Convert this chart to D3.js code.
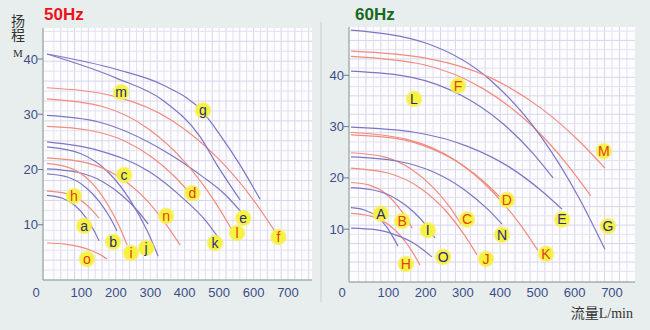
<!DOCTYPE html>
<html><head><meta charset="utf-8">
<script src="https://cdn.jsdelivr.net/npm/d3@7"></script>
<style>
html,body{margin:0;padding:0;background:#e8eeee;}
svg{display:block;}
</style></head><body>
<svg id="chart" width="650" height="330"></svg>
<script>
// ---- 50 Hz performance curves: [flow L/min, head m] ----
const a50 = [[0,15.3],[45,14.8],[83,13.4],[113,11.3],[136,9.0],[151,7.1]];
const b50 = [[0,19.2],[61,18.6],[112,16.8],[152,14.2],[183,11.3],[203,8.9]];
const c50 = [[0,20.1],[88,19.5],[162,17.8],[220,15.2],[265,12.4],[294,10.1]];
const d50 = [[0,27.8],[122,27.1],[224,25.2],[305,22.2],[366,19.0],[407,16.3]];
const e50 = [[0,29.8],[150,28.6],[337,23.5],[450,18.8],[520,15.3],[567,12.1]];
const f50 = [[0,34.8],[199,33.2],[365,28.8],[497,22.0],[597,14.7],[663,8.7]];
const g50 = [[0,40.9],[203,38.1],[337,35.3],[453,30.4],[500,26.5],[561,20.8],[619,14.6]];
const h50 = [[0,16.1],[45,15.8],[83,15.0],[113,13.7],[136,12.3],[151,11.2]];
const i50 = [[0,21.1],[70,20.2],[128,17.7],[175,13.8],[210,9.7],[233,6.3]];
const j50 = [[0,24.1],[97,22.9],[178,19.5],[242,14.4],[291,8.9],[323,4.3]];
const k50 = [[0,25.0],[146,23.5],[300,19.5],[400,14.5],[460,10.8],[503,7.2]];
const l50 = [[0,32.8],[161,31.4],[296,27.3],[404,21.1],[484,14.5],[538,9.0]];
const m50 = [[0,40.9],[203,36.5],[337,32.5],[445,25.9],[494,20.8],[561,14.5]];
const n50 = [[0,22.1],[116,21.2],[213,18.5],[290,14.4],[348,9.9],[387,6.3]];
const o50 = [[0,6.7],[52,6.5],[96,6.0],[130,5.3],[157,4.5],[174,3.8]];

const names50  = ["a","b","c","d","e","f","g","h","i","j","k","l","m","n","o"];
const series50 = [a50,b50,c50,d50,e50,f50,g50,h50,i50,j50,k50,l50,m50,n50,o50];
const kind50   = ["B","B","B","R","B","R","B","R","R","B","B","R","B","R","R"];
const tags50   = [[108,9.8],[192,6.9],[224,19.0],[422,15.7],[570,11.2],[672,7.8],[453,30.7],
                  [78,15.2],[244,4.9],[288,5.8],[488,6.7],[552,8.5],[215,34.0],[346,11.6],[116,3.8]];

// ---- 60 Hz performance curves ----
const A60 = [[0,14.2],[38,13.7],[69,12.5],[95,10.5],[113,8.4],[126,6.7]];
const B60 = [[0,19.1],[49,18.6],[90,17.1],[123,14.7],[148,12.2],[164,10.2]];
const C60 = [[0,24.9],[89,24.1],[162,21.7],[221,18.1],[266,14.2],[295,11.0]];
const D60 = [[0,28.4],[120,27.7],[219,25.6],[299,22.5],[359,19.1],[399,16.3]];
const E60 = [[0,29.9],[170,28.9],[311,26.2],[425,22.1],[509,17.6],[566,13.9]];
const F60 = [[0,43.7],[193,42.1],[354,37.4],[482,30.4],[579,22.7],[643,16.5]];
const G60 = [[0,48.8],[204,46.2],[375,39.0],[511,27.9],[613,15.9],[681,6.1]];
const H60 = [[0,13.1],[56,12.5],[102,10.8],[139,8.2],[167,5.3],[185,3.0]];
const I60 = [[0,18.1],[68,17.5],[124,15.8],[169,13.3],[203,10.6],[225,8.3]];
const J60 = [[0,21.9],[101,20.9],[186,18.0],[254,13.6],[304,8.9],[338,5.0]];
const K60 = [[0,28.9],[150,27.5],[276,23.6],[376,17.6],[451,11.2],[501,5.9]];
const L60 = [[0,40.8],[163,39.6],[298,36.0],[407,30.6],[488,24.8],[542,20.0]];
const M60 = [[0,44.7],[204,43.3],[375,39.5],[511,33.5],[613,27.1],[681,21.9]];
const N60 = [[0,24.1],[122,23.3],[223,21.1],[304,17.7],[365,14.0],[405,11.0]];
const O60 = [[0,10.2],[65,9.9],[119,8.9],[163,7.5],[195,5.9],[217,4.6]];

const names60  = ["A","B","C","D","E","F","G","H","I","J","K","L","M","N","O"];
const series60 = [A60,B60,C60,D60,E60,F60,G60,H60,I60,J60,K60,L60,M60,N60,O60];
const kind60   = ["B","R","R","R","B","R","B","R","B","R","R","B","R","B","B"];
const tags60   = [[80,13.0],[137,11.6],[311,11.9],[418,15.7],[566,11.9],[287,38.0],[689,10.6],
                  [147,3.2],[206,9.8],[362,4.2],[523,5.2],[169,35.4],[678,25.2],[405,8.9],[247,4.6]];

const xTicks = [100,200,300,400,500,600,700];
const yTicks = [10,20,30,40];

// ---- drawing ----
const svg = d3.select("#chart");
const lineColor = {B:"#7c76c2", R:"#f28c7c"};
const textColor = {B:"#2b2d7c", R:"#e2401e"};

const defs = svg.append("defs");
const grad = defs.append("radialGradient").attr("id","dot");
grad.append("stop").attr("offset","0%").attr("stop-color","#f8f43a");
grad.append("stop").attr("offset","75%").attr("stop-color","#f6f040");
grad.append("stop").attr("offset","100%").attr("stop-color","#f6f070").attr("stop-opacity",0.5);

svg.append("line").attr("x1",321).attr("x2",321).attr("y1",22).attr("y2",302)
  .attr("stroke","#c9d3cf").attr("stroke-width",1.2);

function panel(cfg){
  const x = d3.scaleLinear().domain([0,700]).range(cfg.xr);
  const y = d3.scaleLinear().domain([0,40]).range(cfg.yr);
  const g = svg.append("g");
  const [px0,px1,py0,py1] = cfg.box;

  g.append("rect").attr("x",px0).attr("y",py0).attr("width",px1-px0).attr("height",py1-py0)
    .attr("fill","#fdfdff");

  // graph-paper grid
  const gx = d3.range(20, 800, 20).filter(v => x(v) > px0+1 && x(v) < px1-1);
  const gy = d3.range(1.8, 60, 1.8).filter(v => y(v) > py0+1 && y(v) < py1-1);
  g.append("g").selectAll("line").data(gx).join("line")
    .attr("x1",d=>x(d)).attr("x2",d=>x(d)).attr("y1",py0).attr("y2",py1)
    .attr("stroke",(d,i)=> i%2 ? "#d8d5ec" : "#e3e1f2").attr("stroke-width",1);
  g.append("g").selectAll("line").data(gy).join("line")
    .attr("y1",d=>y(d)).attr("y2",d=>y(d)).attr("x1",px0).attr("x2",px1)
    .attr("stroke",(d,i)=> i%2 ? "#d8d5ec" : "#e3e1f2").attr("stroke-width",1);

  // axes
  g.append("line").attr("x1",px0).attr("x2",px0).attr("y1",py0).attr("y2",py1)
    .attr("stroke","#a3b2aa").attr("stroke-width",1.5);
  g.append("line").attr("x1",px0).attr("x2",px1).attr("y1",py1).attr("y2",py1)
    .attr("stroke","#a3b2aa").attr("stroke-width",1.5);

  g.append("g").selectAll("line").data(yTicks).join("line")
    .attr("x1",px0-5).attr("x2",px0).attr("y1",d=>y(d)).attr("y2",d=>y(d))
    .attr("stroke","#6c7a9a").attr("stroke-width",1);
  g.append("g").selectAll("text").data(yTicks).join("text")
    .attr("x",px0-5).attr("y",d=>y(d)).attr("dy","0.35em")
    .attr("text-anchor","end").attr("font-family","Liberation Sans, Arial, sans-serif")
    .attr("font-size",13).attr("fill","#3c4d88").text(d=>d);
  g.append("g").selectAll("text").data(xTicks).join("text")
    .attr("x",d=>x(d)).attr("y",297)
    .attr("text-anchor","middle").attr("font-family","Liberation Sans, Arial, sans-serif")
    .attr("font-size",13).attr("fill","#3c4d88").text(d=>d);
  g.append("text").attr("x",px0-7).attr("y",297).attr("text-anchor","middle")
    .attr("font-family","Liberation Sans, Arial, sans-serif")
    .attr("font-size",13).attr("fill","#3c4d88").text("0");

  // title
  g.append("text").attr("x",cfg.tx).attr("y",20).attr("font-family","Liberation Sans, Arial, sans-serif")
    .attr("font-weight","bold").attr("font-size",17).attr("fill",cfg.tc).text(cfg.title);

  // curves
  const line = d3.line().x(d=>x(d[0])).y(d=>y(d[1])).curve(d3.curveMonotoneX);
  g.append("g").selectAll("path").data(cfg.series).join("path")
    .attr("d",line).attr("fill","none")
    .attr("stroke",(d,i)=>lineColor[cfg.kind[i]]).attr("stroke-width",1.2);

  // model tags
  const t = g.append("g").selectAll("g").data(cfg.names).join("g")
    .attr("transform",(d,i)=>`translate(${x(cfg.tags[i][0])},${y(cfg.tags[i][1])})`);
  t.append("circle").attr("r",8.5).attr("fill","url(#dot)");
  t.append("text").attr("text-anchor","middle").attr("dy","0.36em")
    .attr("font-family","Liberation Sans, Arial, sans-serif").attr("font-size",14)
    .attr("fill",(d,i)=>textColor[cfg.kind[i]]).text(d=>d);
}

panel({title:"50Hz", tc:"#e8141c", tx:44, xr:[47,288], yr:[280,59], box:[43,312,28,280],
       series:series50, names:names50, kind:kind50, tags:tags50});
panel({title:"60Hz", tc:"#17691c", tx:355, xr:[351,612], yr:[280.5,75.3], box:[349,635,27,282],
       series:series60, names:names60, kind:kind60, tags:tags60});

// axis captions: head caption written top-to-bottom
const cap = svg.append("g").attr("fill","#333");
cap.append("text").attr("x",18).attr("y",14).attr("writing-mode","vertical-rl")
  .attr("font-family","Noto Sans CJK SC, sans-serif").attr("font-size",14)
  .attr("letter-spacing",0).text("扬程");
cap.append("text").attr("x",18).attr("y",57).attr("text-anchor","middle")
  .attr("font-family","Liberation Serif, serif").attr("font-size",11).text("M");
const fl = cap.append("text").attr("x",633).attr("y",318).attr("text-anchor","end").attr("font-size",14);
fl.append("tspan").attr("font-family","Noto Sans CJK SC, sans-serif").text("流量");
fl.append("tspan").attr("font-family","Liberation Serif, serif").text("L/min");
</script>
</body></html>
